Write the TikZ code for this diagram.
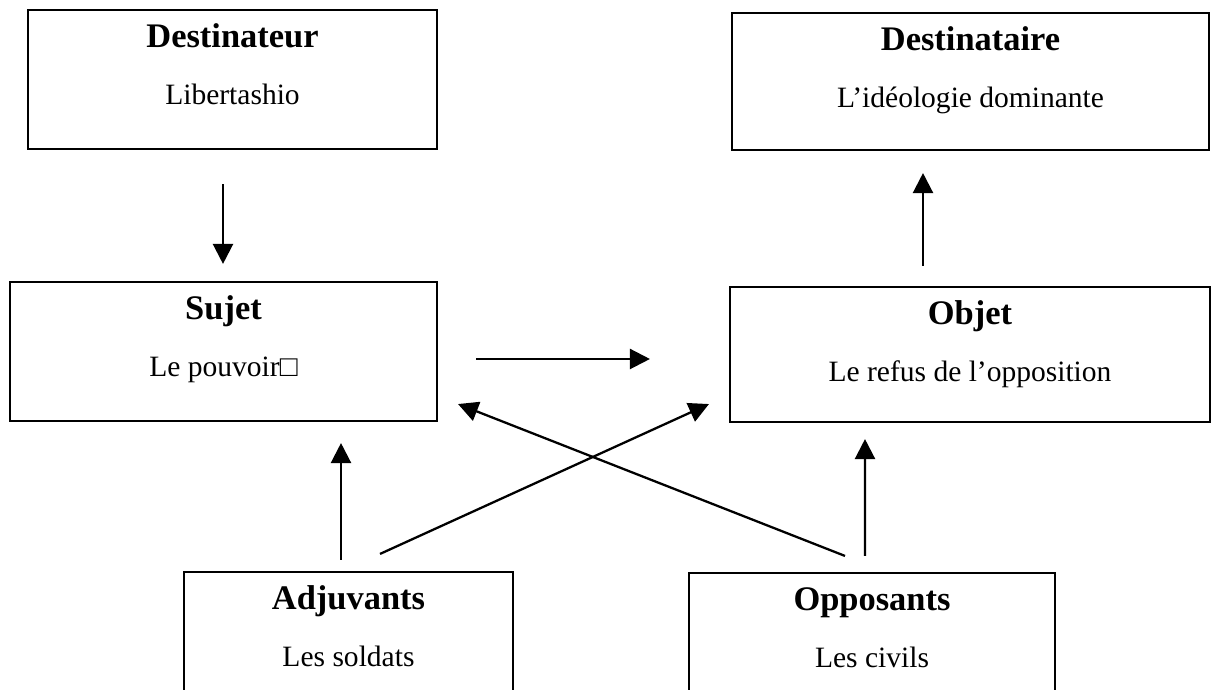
\documentclass[tikz,border=0pt]{standalone}
\usepackage{fontspec}
\setmainfont{Liberation Serif}
\usetikzlibrary{arrows.meta}

\begin{document}
\begin{tikzpicture}[
        box/.style={draw,line width=0.6pt,inner sep=0pt},
        titre/.style={anchor=base,font=\fontsize{9.8}{12}\selectfont\bfseries},
        texte/.style={anchor=base,font=\fontsize{8.4}{10}\selectfont},
        fleche/.style={-{Triangle[length=0.2cm,width=0.2cm]},line width=0.65pt}
    ]
            \useasboundingbox (0,0) rectangle (12.12,6.9);
            \clip (0,0) rectangle (12.12,6.9);

            \foreach \nom/\x/\y/\w/\h/\haut/\bas in {
                dest/2.325/6.105/4.09/1.39/Destinateur/Libertashio,
                desti/9.705/6.085/4.77/1.37/Destinataire/L’idéologie dominante,
                sujet/2.235/3.385/4.27/1.39/Sujet/Le pouvoir□,
                objet/9.70/3.355/4.80/1.35/Objet/Le refus de l’opposition,
                adj/3.485/0.485/3.29/1.39/Adjuvants/Les soldats,
                opp/8.72/0.475/3.66/1.39/Opposants/Les civils}{
                \node[box,minimum width=\w cm,minimum height=\h cm] (\nom) at (\x,\y) {};
                \node[titre] (\nom-t) at ([yshift=-0.39cm]\nom.north) {\haut};
                \node[texte] (\nom-s) at ([yshift=-0.96cm]\nom.north) {\bas};
            }

            \draw[fleche]
                ([xshift=-0.095cm,yshift=-0.34cm]dest.south) --
                ([xshift=-0.005cm,yshift=0.17cm]sujet.north);

            \draw[fleche]
                ([xshift=-0.47cm,yshift=0.2cm]objet.north) --
                ([xshift=-0.475cm,yshift=-0.22cm]desti.south);

            \draw[fleche]
                ([xshift=0.38cm,yshift=-0.075cm]sujet.east) --
                ([xshift=-0.79cm,yshift=-0.045cm]objet.west);

            \draw[fleche]
                ([xshift=-0.075cm,yshift=0.11cm]adj.north) --
                ([xshift=1.175cm,yshift=-0.21cm]sujet.south);

            \draw[fleche]
                ([xshift=0.315cm,yshift=0.17cm]adj.north) --
                ([xshift=-0.2cm,yshift=0.19cm]objet.south west);

            \draw[fleche]
                ([xshift=-0.27cm,yshift=0.16cm]opp.north) --
                ([xshift=0.2cm,yshift=0.18cm]sujet.south east);

            \draw[fleche]
                ([xshift=-0.07cm,yshift=0.16cm]opp.north) --
                ([xshift=-1.05cm,yshift=-0.16cm]objet.south);
        \end{tikzpicture}
\end{document}
